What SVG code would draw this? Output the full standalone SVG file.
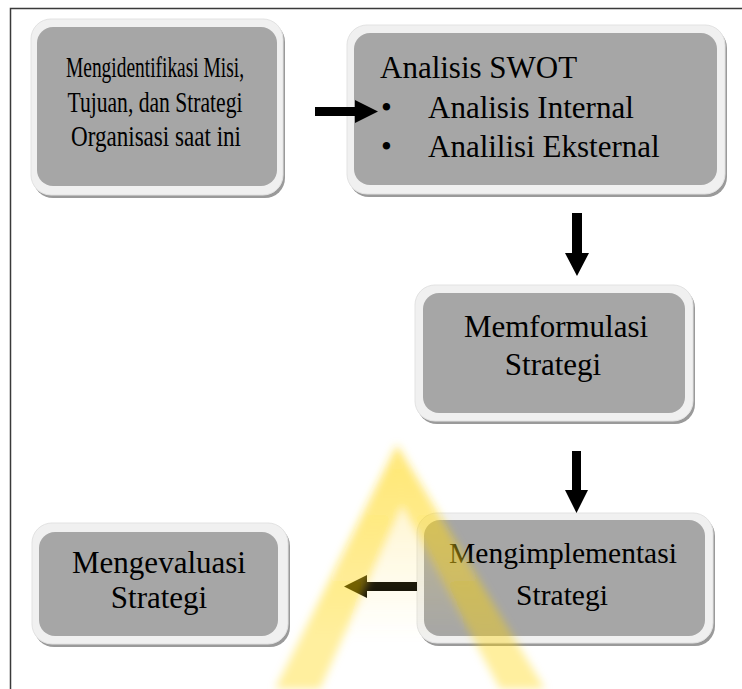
<svg xmlns="http://www.w3.org/2000/svg" width="742" height="689" viewBox="0 0 742 689">
<defs>
<style>
.shadow{fill:#9a9a9a}
.outer{fill:#f0f0f0;stroke:#e2e2e2;stroke-width:1}
.inner{fill:#a6a6a6}
text{font-family:'Liberation Serif','Times New Roman','DejaVu Serif',serif;fill:#000}
.c{text-anchor:middle}
.arrow{fill:#000}
.leg{fill:#ffd400;opacity:0.38}
</style>
<linearGradient id="pale" x1="0" y1="445" x2="0" y2="640" gradientUnits="userSpaceOnUse">
<stop offset="0" stop-color="#ffe060" stop-opacity="0.4"/>
<stop offset="1" stop-color="#ffe060" stop-opacity="0"/>
</linearGradient>
<filter id="soft" x="-20%" y="-20%" width="140%" height="140%">
<feGaussianBlur stdDeviation="4"/>
</filter>
</defs>
<rect width="742" height="689" fill="#fff"/>
<path id="frame" d="M10.5 689 V8.5 H742" fill="none" stroke="#3a3a3a" stroke-width="1.5"/>

<g id="n1">
<rect class="shadow" x="33" y="22" width="252" height="176" rx="20"/>
<rect class="outer" x="31" y="19" width="252" height="176" rx="20"/>
<rect class="inner" x="37" y="27" width="240" height="159" rx="16"/>
<text class="c" font-size="29" x="155" y="77" textLength="178" lengthAdjust="spacingAndGlyphs">Mengidentifikasi Misi,</text>
<text class="c" font-size="29" x="155" y="112" textLength="175" lengthAdjust="spacingAndGlyphs">Tujuan, dan Strategi</text>
<text class="c" font-size="29" x="156" y="146" textLength="170" lengthAdjust="spacingAndGlyphs">Organisasi saat ini</text>
</g>

<g id="n2">
<rect class="shadow" x="349" y="28" width="378" height="169" rx="20"/>
<rect class="outer" x="347" y="25" width="378" height="169" rx="20"/>
<rect class="inner" x="354" y="33" width="363" height="152" rx="16"/>
<text font-size="31" x="380" y="78">Analisis SWOT</text>
<text font-size="31" x="381" y="118">•</text>
<text font-size="31" x="428" y="118">Analisis Internal</text>
<text font-size="31" x="381" y="157">•</text>
<text font-size="31" x="428" y="157">Analilisi Eksternal</text>
</g>

<g id="n3">
<rect class="shadow" x="417" y="288" width="278" height="136" rx="20"/>
<rect class="outer" x="415" y="285" width="278" height="136" rx="20"/>
<rect class="inner" x="423" y="293" width="262" height="120" rx="16"/>
<text class="c" font-size="31" x="556" y="337">Memformulasi</text>
<text class="c" font-size="31" x="553" y="375">Strategi</text>
</g>

<g id="n4">
<rect class="shadow" x="419" y="516" width="296" height="130" rx="20"/>
<rect class="outer" x="417" y="513" width="296" height="130" rx="20"/>
<rect class="inner" x="424" y="520" width="281" height="116" rx="16"/>
<text class="c" font-size="29.5" x="563" y="563">Mengimplementasi</text>
<text class="c" font-size="29.5" x="562" y="605">Strategi</text>
</g>

<g id="n5">
<rect class="shadow" x="34" y="526" width="256" height="121" rx="20"/>
<rect class="outer" x="32" y="523" width="256" height="121" rx="20"/>
<rect class="inner" x="39" y="532" width="239" height="104" rx="16"/>
<text class="c" font-size="31" x="159" y="573">Mengevaluasi</text>
<text class="c" font-size="31" x="159" y="608">Strategi</text>
</g>

<g id="connectors">
<path class="arrow" d="M315 107 H355 V100 L378 111.5 L355 123 V116 H315 Z"/>
<path class="arrow" d="M572 213 H582 V253 H589 L577 276 L565 253 H572 Z"/>
<path class="arrow" d="M572 451 H581 V490 H588 L576.5 513 L565 490 H572 Z"/>
<path class="arrow" d="M417 582 V591 H367 V598 L344 586.5 L367 575 V582 Z"/>
</g>

<g id="watermark" filter="url(#soft)">
<polygon points="397,445 545,689 275,689" fill="url(#pale)"/>
<polygon class="leg" points="397,445 402,505 320,689 275,689"/>
<polygon class="leg" points="397,445 545,689 500,689 402,505"/>
</g>
</svg>
